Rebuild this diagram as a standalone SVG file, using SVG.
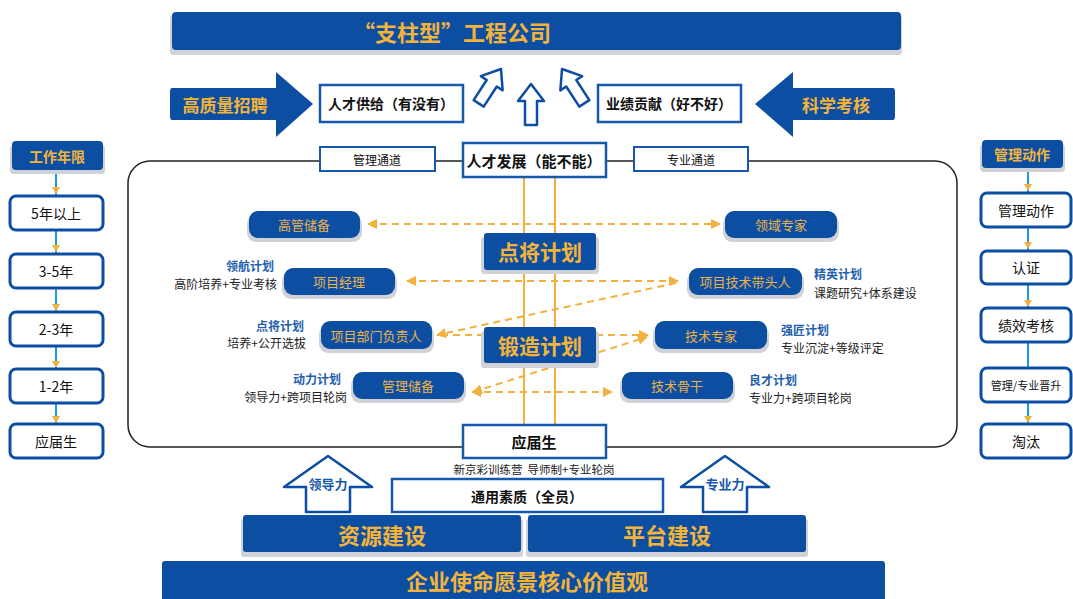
<svg xmlns="http://www.w3.org/2000/svg" width="1073" height="599" viewBox="0 0 1073 599">
<style>
text{font-family:"Noto Sans CJK SC","Noto Sans",sans-serif;text-anchor:middle;dominant-baseline:central}
.bl{fill:#0B4EA2}
.sh{fill:#cfd2d6}
.gold{fill:#F4B43A;font-weight:bold}
.ng{fill:#EDB24A;font-size:13px}
.wb{fill:#fff;stroke:#1659AC;stroke-width:2.5}
.wbt{fill:#fff;stroke:#1659AC;stroke-width:2}
.cb{fill:#fff;stroke:#0B4EA2;stroke-width:3}
.k{fill:#111;font-size:14px}
.kb{fill:#111;font-size:14px;font-weight:bold}
.lb{fill:#1F5FB0;font-size:12px;font-weight:bold}
.ds{fill:#222;font-size:12px}
.dash{stroke:#F2B13E;stroke-width:2;stroke-dasharray:7 5;fill:none}
.vl{stroke:#F2B13E;stroke-width:2;fill:none}
.hol{fill:#fff;stroke:#0B4EA2;stroke-width:2.5;stroke-linejoin:round}
.cl{stroke:#1E9AD6;stroke-width:2;fill:none}
</style>
<defs>
<marker id="ga" viewBox="0 0 10 10" refX="9" refY="5" markerWidth="5" markerHeight="5" orient="auto-start-reverse" markerUnits="strokeWidth">
<path d="M0,0 L10,5 L0,10 z" fill="#F2B13E"/>
</marker>
</defs>

<!-- top banner -->
<g id="banner-top">
<rect class="sh" x="170" y="15" width="732" height="40" rx="4"/>
<rect class="bl" x="172" y="12" width="729" height="38" rx="4"/>
<text class="gold" x="452" y="31" font-size="22">“支柱型”工程公司</text>
</g>

<g id="arrow-recruit">
<path class="bl" d="M172,88 L276,88 L276,72 L313,104 L276,137 L276,120 L172,120 Q170,120 170,116 L170,92 Q170,88 172,88 Z"/>
<text class="gold" x="225" y="104" font-size="17">高质量招聘</text>
</g>
<g id="arrow-assess">
<path class="bl" d="M893,88 L793,88 L793,72 L755,104 L793,137 L793,120 L893,120 Q895,120 895,116 L895,92 Q895,88 893,88 Z"/>
<text class="gold" x="836" y="104" font-size="17">科学考核</text>
</g>

<g id="supply">
<rect class="wb" x="320" y="85" width="143" height="37"/>
<text class="kb" x="391" y="103">人才供给（有没有）</text>
</g>
<g id="perf">
<rect class="wb" x="598" y="85" width="143" height="37"/>
<text class="kb" x="669" y="103">业绩贡献（好不好）</text>
</g>

<g id="up-arrows">
<path class="hol" transform="translate(531,84)" d="M0,0 L13,17 L6,17 L6,41 L-6,41 L-6,17 L-13,17 Z"/>
<path class="hol" transform="translate(501,69) rotate(33)" d="M0,0 L13,17 L6,17 L6,41 L-6,41 L-6,17 L-13,17 Z"/>
<path class="hol" transform="translate(562,69) rotate(-33)" d="M0,0 L13,17 L6,17 L6,41 L-6,41 L-6,17 L-13,17 Z"/>
</g>

<!-- main frame -->
<rect x="128" y="161" width="829" height="286" rx="22" fill="none" stroke="#222" stroke-width="1.5"/>

<!-- connectors -->
<g id="connectors">
<line class="vl" x1="524" y1="177" x2="524" y2="425"/>
<line class="vl" x1="555" y1="177" x2="555" y2="425"/>
<line class="dash" x1="368" y1="224" x2="720" y2="224" marker-start="url(#ga)" marker-end="url(#ga)"/>
<line class="dash" x1="407" y1="281" x2="678" y2="281" marker-start="url(#ga)" marker-end="url(#ga)"/>
<line class="dash" x1="676" y1="283" x2="437" y2="335" marker-end="url(#ga)"/>
<line class="dash" x1="484" y1="335" x2="438" y2="335"/>
<line class="dash" x1="596" y1="335" x2="648" y2="335" marker-end="url(#ga)"/>
<line class="dash" x1="473" y1="392" x2="647" y2="337" marker-start="url(#ga)" marker-end="url(#ga)"/>
<line class="dash" x1="472" y1="392" x2="612" y2="392" marker-start="url(#ga)" marker-end="url(#ga)"/>
<line class="cl" x1="56" y1="170" x2="56" y2="424"/>
<line class="cl" x1="1028" y1="168" x2="1028" y2="424"/>
</g>
<g id="col-arrowheads" fill="#F2B13E">
<path d="M52,187 L60,187 L56,194 Z"/>
<path d="M52,245 L60,245 L56,252 Z"/>
<path d="M52,304 L60,304 L56,311 Z"/>
<path d="M52,361 L60,361 L56,368 Z"/>
<path d="M52,416 L60,416 L56,423 Z"/>
<path d="M1024,184 L1032,184 L1028,191 Z"/>
<path d="M1024,242 L1032,242 L1028,249 Z"/>
<path d="M1024,300 L1032,300 L1028,307 Z"/>
<path d="M1024,416 L1032,416 L1028,423 Z"/>
</g>

<!-- frame top labels -->
<g id="mgmt-channel">
<rect class="wbt" x="320" y="147" width="115" height="24"/>
<text class="k" x="377" y="159" style="font-size:12px">管理通道</text>
</g>
<g id="talent-dev">
<rect class="wb" x="463" y="143" width="143" height="34"/>
<text class="kb" x="534" y="160" style="font-size:15px">人才发展（能不能）</text>
</g>
<g id="pro-channel">
<rect class="wbt" x="634" y="147" width="114" height="24"/>
<text class="k" x="691" y="159" style="font-size:12px">专业通道</text>
</g>

<!-- plan boxes -->
<g id="plan-dianjiang">
<rect class="sh" x="481" y="237" width="118" height="37" rx="3"/>
<rect class="bl" x="484" y="233" width="112" height="37" rx="3"/>
<text class="gold" x="540" y="251" font-size="21">点将计划</text>
</g>
<g id="plan-duanzao">
<rect class="sh" x="481" y="331" width="118" height="37" rx="3"/>
<rect class="bl" x="484" y="327" width="112" height="36" rx="3"/>
<text class="gold" x="540" y="345" font-size="21">锻造计划</text>
</g>

<!-- role nodes -->
<g id="n-gaoguan">
<rect class="sh" x="247" y="215" width="115" height="27" rx="9"/>
<rect class="bl" x="249" y="211" width="111" height="27" rx="9"/>
<text class="ng" x="304" y="224">高管储备</text>
</g>
<g id="n-lingyu">
<rect class="sh" x="723" y="215" width="116" height="27" rx="9"/>
<rect class="bl" x="725" y="211" width="112" height="27" rx="9"/>
<text class="ng" x="781" y="224">领域专家</text>
</g>
<g id="n-xiangmujingli">
<rect class="sh" x="282" y="272" width="115" height="27" rx="9"/>
<rect class="bl" x="284" y="268" width="111" height="27" rx="9"/>
<text class="ng" x="339" y="281">项目经理</text>
</g>
<g id="n-daitouren">
<rect class="sh" x="687" y="272" width="117" height="27" rx="9"/>
<rect class="bl" x="689" y="268" width="113" height="27" rx="9"/>
<text class="ng" x="745" y="281">项目技术带头人</text>
</g>
<g id="n-bumen">
<rect class="sh" x="319" y="325" width="115" height="28" rx="9"/>
<rect class="bl" x="321" y="321" width="111" height="28" rx="9"/>
<text class="ng" x="376" y="335">项目部门负责人</text>
</g>
<g id="n-jishuzhuanjia">
<rect class="sh" x="653" y="325" width="116" height="28" rx="9"/>
<rect class="bl" x="655" y="321" width="112" height="28" rx="9"/>
<text class="ng" x="711" y="335">技术专家</text>
</g>
<g id="n-guanlichubei">
<rect class="sh" x="351" y="376" width="115" height="27" rx="9"/>
<rect class="bl" x="353" y="372" width="111" height="27" rx="9"/>
<text class="ng" x="408" y="385">管理储备</text>
</g>
<g id="n-gugan">
<rect class="sh" x="620" y="376" width="115" height="27" rx="9"/>
<rect class="bl" x="622" y="372" width="111" height="27" rx="9"/>
<text class="ng" x="677" y="385">技术骨干</text>
</g>

<!-- plan labels -->
<g id="lbl-linghang">
<text class="lb" x="274" y="265" style="text-anchor:end">领航计划</text>
<text class="ds" x="277" y="283" style="text-anchor:end">高阶培养+专业考核</text>
</g>
<g id="lbl-jingying">
<text class="lb" x="814" y="273" style="text-anchor:start">精英计划</text>
<text class="ds" x="814" y="292" style="text-anchor:start">课题研究+体系建设</text>
</g>
<g id="lbl-dianjiang">
<text class="lb" x="304" y="325" style="text-anchor:end">点将计划</text>
<text class="ds" x="306" y="342" style="text-anchor:end">培养+公开选拔</text>
</g>
<g id="lbl-qiangjiang">
<text class="lb" x="781" y="329" style="text-anchor:start">强匠计划</text>
<text class="ds" x="781" y="347" style="text-anchor:start">专业沉淀+等级评定</text>
</g>
<g id="lbl-dongli">
<text class="lb" x="341" y="378" style="text-anchor:end">动力计划</text>
<text class="ds" x="347" y="396" style="text-anchor:end">领导力+跨项目轮岗</text>
</g>
<g id="lbl-liangcai">
<text class="lb" x="749" y="379" style="text-anchor:start">良才计划</text>
<text class="ds" x="749" y="397" style="text-anchor:start">专业力+跨项目轮岗</text>
</g>

<!-- graduate box -->
<g id="graduate">
<rect class="wb" x="463" y="425" width="143" height="33"/>
<text class="kb" x="534" y="441" style="font-size:15px">应届生</text>
</g>
<text class="ds" x="534" y="469" style="font-size:11.5px">新京彩训练营&#160;&#160;导师制+专业轮岗</text>

<!-- left column -->
<g id="hdr-years">
<rect class="sh" x="10" y="145" width="95" height="29" rx="4"/>
<rect class="bl" x="12" y="141" width="91" height="29" rx="4"/>
<text class="gold" x="57" y="156" font-size="14">工作年限</text>
</g>
<g id="y-5plus"><rect class="cb" x="10" y="196" width="93" height="34" rx="6"/><text class="k" x="56" y="213">5年以上</text></g>
<g id="y-3-5"><rect class="cb" x="10" y="254" width="93" height="34" rx="6"/><text class="k" x="56" y="271">3-5年</text></g>
<g id="y-2-3"><rect class="cb" x="10" y="312" width="93" height="34" rx="6"/><text class="k" x="56" y="329">2-3年</text></g>
<g id="y-1-2"><rect class="cb" x="10" y="369" width="93" height="34" rx="6"/><text class="k" x="56" y="386">1-2年</text></g>
<g id="y-grad"><rect class="cb" x="10" y="424" width="93" height="34" rx="6"/><text class="k" x="56" y="441">应届生</text></g>

<!-- right column -->
<g id="hdr-actions">
<rect class="sh" x="980" y="144" width="85" height="28" rx="4"/>
<rect class="bl" x="982" y="140" width="81" height="28" rx="4"/>
<text class="gold" x="1022" y="154" font-size="14">管理动作</text>
</g>
<g id="a-actions"><rect class="cb" x="981" y="193" width="90" height="34" rx="6"/><text class="k" x="1026" y="210">管理动作</text></g>
<g id="a-cert"><rect class="cb" x="981" y="251" width="90" height="33" rx="6"/><text class="k" x="1026" y="267">认证</text></g>
<g id="a-perf"><rect class="cb" x="981" y="308" width="90" height="34" rx="6"/><text class="k" x="1026" y="325">绩效考核</text></g>
<g id="a-promo"><rect class="cb" x="981" y="368" width="90" height="34" rx="6"/><text class="k" x="1026" y="385" style="font-size:11px">管理/专业晋升</text></g>
<g id="a-out"><rect class="cb" x="981" y="424" width="90" height="34" rx="6"/><text class="k" x="1026" y="441">淘汰</text></g>

<!-- bottom -->
<g id="house-lead">
<path class="hol" stroke-width="3" d="M328,456 L372,487 L350,487 L350,512 L306,512 L306,487 L284,487 Z"/>
<text x="328" y="483" font-size="13" font-weight="bold" fill="#1659AC">领导力</text>
</g>
<g id="house-pro">
<path class="hol" stroke-width="3" d="M725,456 L769,487 L747,487 L747,512 L703,512 L703,487 L681,487 Z"/>
<text x="725" y="483" font-size="13" font-weight="bold" fill="#1659AC">专业力</text>
</g>
<g id="general">
<rect class="wb" x="392" y="479" width="271" height="33"/>
<text class="kb" x="527" y="496">通用素质（全员）</text>
</g>
<g id="resource">
<rect class="sh" x="241" y="519" width="282" height="38" rx="3"/>
<rect class="bl" x="243" y="515" width="278" height="37" rx="3"/>
<text class="gold" x="382" y="534" font-size="22">资源建设</text>
</g>
<g id="platform">
<rect class="sh" x="526" y="519" width="282" height="38" rx="3"/>
<rect class="bl" x="528" y="515" width="278" height="37" rx="3"/>
<text class="gold" x="667" y="534" font-size="22">平台建设</text>
</g>
<g id="mission">
<rect class="bl" x="162" y="561" width="723" height="40" rx="3"/>
<text class="gold" x="527" y="580" font-size="22">企业使命愿景核心价值观</text>
</g>
</svg>
